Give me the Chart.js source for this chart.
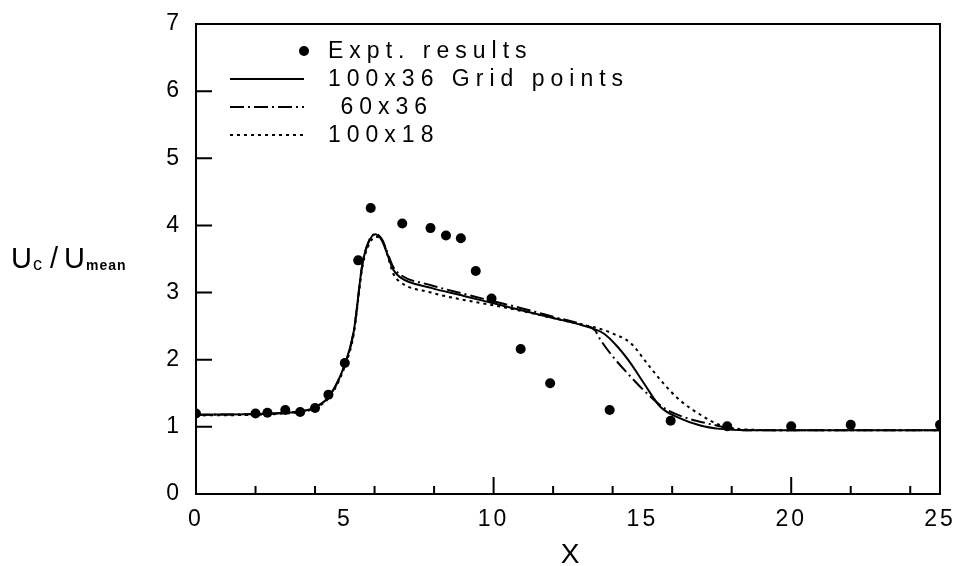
<!DOCTYPE html>
<html>
<head>
<meta charset="utf-8">
<script src="https://cdn.jsdelivr.net/npm/chart.js@4.4.1/dist/chart.umd.min.js"></script>
<style>
html,body{margin:0;padding:0;background:#fff;}
#wrap{width:957px;height:566px;position:relative;}
</style>
</head>
<body>
<div id="wrap"><canvas id="c" width="957" height="566"></canvas></div>
<script>
// ---- Data ----
const exptX = [0, 2, 2.4, 3, 3.5, 4, 4.45, 5, 5.45, 5.87, 6.93, 7.88, 8.4, 8.9, 9.4, 9.93, 10.91, 11.9, 13.9, 15.95, 17.85, 20, 22, 25];
const exptY = [1.2, 1.2, 1.21, 1.25, 1.22, 1.28, 1.48, 1.95, 3.48, 4.26, 4.03, 3.96, 3.85, 3.81, 3.32, 2.91, 2.16, 1.65, 1.25, 1.09, 1.01, 1.01, 1.03, 1.03];

const g100x36X = [0, 2, 3, 3.5, 4, 4.5, 5, 5.3, 5.6, 5.8, 6.02, 6.24, 6.63, 6.85, 7.9, 9, 10, 11, 12, 13, 13.7, 14.15, 14.6, 15.05, 15.6, 16.25, 16.95, 17.6, 18.5, 20, 25];
const g100x36Y = [1.18, 1.19, 1.21, 1.23, 1.29, 1.47, 1.93, 2.42, 3.45, 3.75, 3.87, 3.78, 3.34, 3.23, 3.07, 2.95, 2.84, 2.73, 2.62, 2.51, 2.39, 2.2, 1.95, 1.65, 1.3, 1.13, 1.02, 0.97, 0.95, 0.95, 0.95];

const g60x36X = [0, 2, 3, 3.5, 4, 4.5, 5, 5.3, 5.6, 5.8, 6.02, 6.24, 6.63, 6.85, 7.9, 9, 10, 11, 12, 13, 13.4, 13.6, 14.0, 14.6, 15.15, 15.8, 16.5, 17.4, 17.9, 18.5, 20, 25];
const g60x36Y = [1.18, 1.19, 1.21, 1.23, 1.29, 1.47, 1.93, 2.42, 3.45, 3.76, 3.87, 3.8, 3.38, 3.27, 3.11, 2.98, 2.87, 2.76, 2.64, 2.52, 2.44, 2.29, 2.05, 1.75, 1.5, 1.26, 1.13, 1.03, 0.98, 0.95, 0.95, 0.95];

const g100x18X = [0, 2, 3, 3.5, 4, 4.5, 5, 5.3, 5.6, 5.85, 6.08, 6.3, 6.63, 6.85, 7.9, 9, 10, 11, 12, 13, 13.5, 14.0, 14.6, 15.15, 15.7, 16.25, 16.95, 17.6, 18.5, 20, 25];
const g100x18Y = [1.17, 1.18, 1.2, 1.22, 1.28, 1.45, 1.9, 2.38, 3.4, 3.75, 3.83, 3.74, 3.28, 3.16, 3.0, 2.89, 2.81, 2.72, 2.62, 2.52, 2.47, 2.39, 2.25, 1.95, 1.65, 1.4, 1.18, 1.03, 0.96, 0.95, 0.95];

const seriesLabels = ['Expt. results', '100x36 Grid points', ' 60x36', '100x18'];
const xTickLabels = [0, 5, 10, 15, 20, 25];
const yTickLabels = [0, 1, 2, 3, 4, 5, 6, 7];
const xMinorTicks = [2, 4, 6, 8, 10, 12, 14, 16, 18, 20, 22, 24];
const xTallTicks = [10, 20];

const FONT = "'Liberation Sans', Arial, sans-serif";

function pts(xs, ys) { return xs.map((x, i) => ({x: x, y: ys[i]})); }

const framePlugin = {
  id: 'frame',
  beforeDraw(chart) {
    chart.ctx.letterSpacing = '3px';
  },
  afterDraw(chart) {
    const ctx = chart.ctx;
    const a = chart.chartArea;
    const xs = chart.scales.x, ys = chart.scales.y;
    ctx.save();
    ctx.strokeStyle = '#000';
    ctx.lineWidth = 2;
    ctx.setLineDash([]);
    ctx.strokeRect(a.left, a.top, a.right - a.left, a.bottom - a.top);
    // inward ticks
    ctx.beginPath();
    yTickLabels.forEach(v => {
      if (v === 0 || v === 7) return;
      const p = ys.getPixelForValue(v);
      ctx.moveTo(a.left, p); ctx.lineTo(a.left + 16, p);
    });
    xMinorTicks.forEach(v => {
      const p = xs.getPixelForValue(v);
      const len = xTallTicks.includes(v) ? 17 : 8;
      ctx.moveTo(p, a.bottom); ctx.lineTo(p, a.bottom - len);
    });
    ctx.stroke();

    // legend
    ctx.letterSpacing = '6px';
    ctx.font = '23px ' + FONT;
    ctx.fillStyle = '#000';
    ctx.textBaseline = 'middle';
    ctx.textAlign = 'left';
    const rowY = [51, 79, 107, 135];
    chart.data.datasets.forEach((ds, i) => {
      const y = rowY[i];
      if (ds.showLine === false) {
        ctx.beginPath();
        ctx.arc(304, y, 5, 0, Math.PI * 2);
        ctx.fill();
      } else {
        ctx.beginPath();
        ctx.lineWidth = ds.borderWidth;
        ctx.setLineDash(ds.borderDash || []);
        ctx.moveTo(230, y); ctx.lineTo(304, y);
        ctx.stroke();
        ctx.setLineDash([]);
      }
      ctx.fillText(ds.label, 328, y + 1);
    });

    // axis titles
    ctx.letterSpacing = '0px';
    ctx.textBaseline = 'alphabetic';
    ctx.font = '29px ' + FONT;
    let x = 11;
    ctx.fillText('U', x, 268); x += ctx.measureText('U').width + 1;
    ctx.font = '18px ' + FONT;
    ctx.fillText('c', x, 270); x += ctx.measureText('c').width + 8;
    ctx.font = '29px ' + FONT;
    ctx.fillText('/', x, 268); x += ctx.measureText('/').width + 6;
    ctx.fillText('U', x, 268); x += ctx.measureText('U').width + 1;
    ctx.font = 'bold 14px ' + FONT;
    ctx.letterSpacing = '1px';
    ctx.fillText('mean', x, 270);
    ctx.letterSpacing = '0px';
    ctx.font = '28px ' + FONT;
    ctx.textAlign = 'center';
    ctx.fillText('X', 570, 563);
    ctx.restore();
  }
};

new Chart(document.getElementById('c'), {
  type: 'line',
  data: {
    datasets: [
      { label: seriesLabels[0], data: pts(exptX, exptY), showLine: false,
        pointRadius: 5, pointBackgroundColor: '#000', pointBorderColor: '#000', pointBorderWidth: 0, borderColor: '#000' },
      { label: seriesLabels[1], data: pts(g100x36X, g100x36Y), borderColor: '#000', borderWidth: 2,
        pointRadius: 0, cubicInterpolationMode: 'monotone', fill: false },
      { label: seriesLabels[2], data: pts(g60x36X, g60x36Y), borderColor: '#000', borderWidth: 2,
        borderDash: [14, 4, 2, 4], pointRadius: 0, cubicInterpolationMode: 'monotone', fill: false },
      { label: seriesLabels[3], data: pts(g100x18X, g100x18Y), borderColor: '#000', borderWidth: 2,
        borderDash: [3, 4], pointRadius: 0, cubicInterpolationMode: 'monotone', fill: false }
    ]
  },
  options: {
    responsive: false,
    animation: false,
    events: [],
    layout: { padding: { left: 0, top: 24, right: 17, bottom: 0 } },
    plugins: { legend: { display: false }, tooltip: { enabled: false }, title: { display: false } },
    scales: {
      x: {
        type: 'linear', min: 0, max: 25,
        afterFit(s) { s.height = 72; s.paddingLeft = 0; s.paddingRight = 0; },
        afterBuildTicks(s) { s.ticks = xTickLabels.map(v => ({value: v})); },
        grid: { display: false, drawTicks: false },
        border: { display: false },
        ticks: { color: '#000', font: { family: FONT, size: 23 }, padding: 12, maxRotation: 0, autoSkip: false }
      },
      y: {
        type: 'linear', min: 0, max: 7,
        afterFit(s) { s.width = 196; s.paddingTop = 0; s.paddingBottom = 0; },
        afterBuildTicks(s) { s.ticks = yTickLabels.map(v => ({value: v})); },
        grid: { display: false, drawTicks: false },
        border: { display: false },
        ticks: { color: '#000', font: { family: FONT, size: 23 }, padding: 14 }
      }
    }
  },
  plugins: [framePlugin]
});
</script>
</body>
</html>
